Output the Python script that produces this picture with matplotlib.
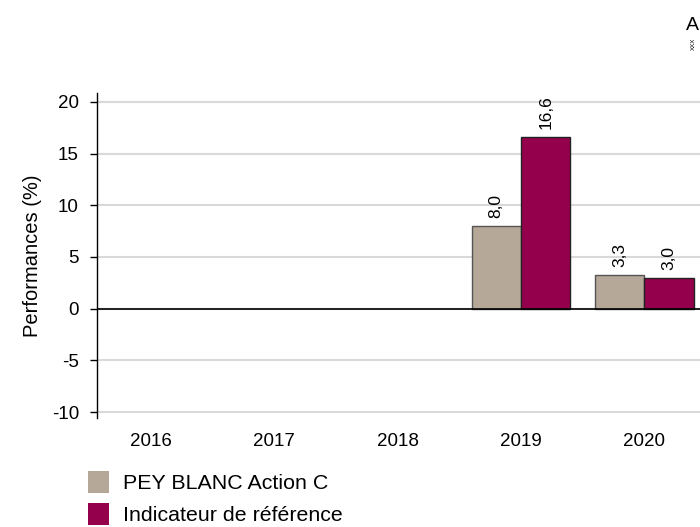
import numpy as np
import matplotlib.pyplot as plt
from matplotlib.patches import Patch

plt.rcParams['font.family'] = ['Liberation Sans', 'DejaVu Sans']
plt.rcParams['axes.unicode_minus'] = False

years = ['2016', '2017', '2018', '2019', '2020']
fund = [np.nan, np.nan, np.nan, 8.0, 3.3]
benchmark = [np.nan, np.nan, np.nan, 16.6, 3.0]
fund_name = 'PEY BLANC Action C'
bench_name = 'Indicateur de référence'

beige = '#b5a898'
purple = '#95004c'

fig = plt.figure(figsize=(7, 5.27), dpi=100)
ax = fig.add_axes([97 / 700, 1 - 418 / 527, 1 - 97 / 700, (418 - 93) / 527])

x = np.arange(len(years))
w = 0.4
b1 = ax.bar(x - w / 2, fund, w, color=beige, edgecolor='#555555', linewidth=1, zorder=3)
b2 = ax.bar(x + w / 2, benchmark, w, color=purple, edgecolor='#222222', linewidth=1, zorder=3)

# value labels, rotated, french decimal comma
for bars, vals in [(b1, fund), (b2, benchmark)]:
    for rect, v in zip(bars, vals):
        if np.isnan(v):
            continue
        ax.annotate(f'{v:.1f}'.replace('.', ','),
                    (rect.get_x() + rect.get_width() / 2, v),
                    xytext=(0, 8), textcoords='offset pixels',
                    rotation=90, ha='center', va='bottom', fontsize=12.5)

ax.set_xlim(-0.433, 4.45)
ax.set_ylim(-10.58, 20.87)
ax.set_yticks([-10, -5, 0, 5, 10, 15, 20])
ax.set_xticks(x)
ax.set_xticklabels(years)
ax.tick_params(axis='x', length=0, pad=11, labelsize=13.5)
ax.tick_params(axis='y', length=5, width=1, labelsize=13.5, pad=8)
ax.grid(axis='y', color='#d9d9d9', linewidth=1.5, zorder=0)
ax.axhline(0, color='black', linewidth=1.2, zorder=4)
for s in ['top', 'right', 'bottom']:
    ax.spines[s].set_visible(False)
ax.spines['left'].set_linewidth(1)
ax.set_ylabel('Performances (%)', fontsize=14.5, labelpad=7)

handles = [Patch(facecolor=beige, edgecolor='none'), Patch(facecolor=purple, edgecolor='none')]
fig.legend(handles, [fund_name, bench_name], loc='upper left',
           bbox_to_anchor=(88 / 700, 1 - 471 / 527), frameon=False, fontsize=15.4,
           borderpad=0, borderaxespad=0,
           handlelength=0.98, handleheight=1.17, handletextpad=0.65, labelspacing=0.47)

fig.text(692 / 700, 1 - 25 / 527, 'A', fontsize=14, ha='center', va='center')
fig.text(693.5 / 700, 1 - 44 / 527, 'XXX', fontsize=4.5, rotation=90, ha='center', va='center')

fig.savefig('out.png', dpi=100)
